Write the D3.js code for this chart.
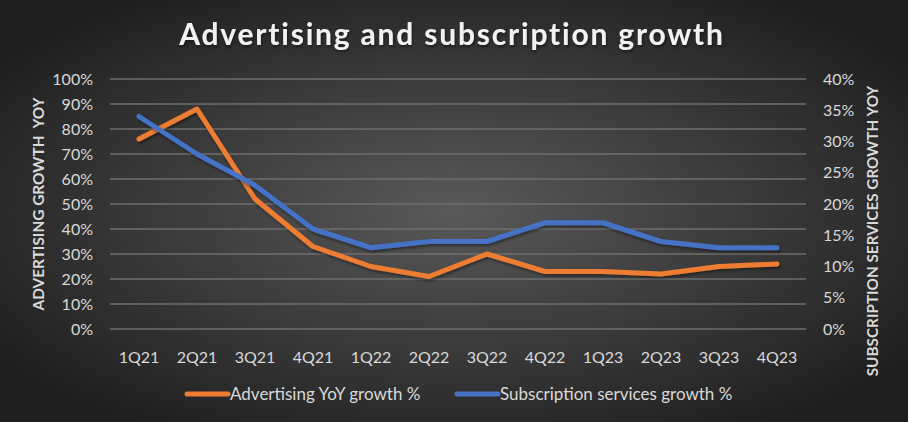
<!DOCTYPE html>
<html>
<head>
<meta charset="utf-8">
<script src="https://cdn.jsdelivr.net/npm/d3@7"></script>
<style>
  html, body { margin: 0; padding: 0; background: #333; }
  #chart { width: 908px; height: 422px; }
  text { font-family: Lato, "Open Sans", sans-serif; }
</style>
</head>
<body>
<div id="chart"></div>
<script>
const quarters = ["1Q21","2Q21","3Q21","4Q21","1Q22","2Q22","3Q22","4Q22","1Q23","2Q23","3Q23","4Q23"];
const advertisingGrowth = [76, 88, 52, 33, 25, 21, 30, 23, 23, 22, 25, 26];
const subscriptionGrowth = [34, 28, 23, 16, 13, 14, 14, 17, 17, 14, 13, 13];
const leftTicks = [0,10,20,30,40,50,60,70,80,90,100];
const rightTicks = [0,5,10,15,20,25,30,35,40];

const W = 908, H = 422;
const margin = { top: 79, right: 102, bottom: 93, left: 110 };

const svg = d3.select("#chart").append("svg")
    .attr("width", W).attr("height", H);

const defs = svg.append("defs");
const bg = defs.append("radialGradient").attr("id","bg")
    .attr("cx","50%").attr("cy","50%").attr("r","62%");
bg.append("stop").attr("offset","0%").attr("stop-color","#595959");
bg.append("stop").attr("offset","100%").attr("stop-color","#1e1e1e");

const shadow = defs.append("filter").attr("id","shadow")
    .attr("x","-10%").attr("y","-20%").attr("width","120%").attr("height","150%");
shadow.append("feDropShadow").attr("dx",1).attr("dy",2).attr("stdDeviation",1.5)
    .attr("flood-color","#000").attr("flood-opacity",0.45);

svg.append("rect").attr("width",W).attr("height",H).attr("fill","url(#bg)");

const x = d3.scaleBand().domain(quarters).range([margin.left, W - margin.right]);
const yL = d3.scaleLinear().domain([0,100]).range([H - margin.bottom, margin.top]);
const yR = d3.scaleLinear().domain([0,40]).range([H - margin.bottom, margin.top]);

// gridlines
svg.append("g").selectAll("line").data(leftTicks).join("line")
    .attr("x1", margin.left).attr("x2", W - margin.right)
    .attr("y1", d => yL(d)).attr("y2", d => yL(d))
    .attr("stroke","#6e6e6e").attr("stroke-width",1.3);

// axes
const leftAxis = svg.append("g").attr("transform",`translate(${margin.left - 17},0)`)
    .call(d3.axisLeft(yL).tickValues(leftTicks).tickFormat(d => d + "%").tickSize(0).tickPadding(0));
const rightAxis = svg.append("g").attr("transform",`translate(${W - margin.right + 17},0)`)
    .call(d3.axisRight(yR).tickValues(rightTicks).tickFormat(d => d + "%").tickSize(0).tickPadding(0));
const bottomAxis = svg.append("g").attr("transform",`translate(0,${H - margin.bottom + 28})`)
    .call(d3.axisBottom(x).tickSize(0).tickPadding(0));

[leftAxis, rightAxis, bottomAxis].forEach(g => {
  g.select(".domain").remove();
  g.selectAll("text").attr("fill","#d9d9d9").style("font-size","16px")
    .style("font-family","Lato, sans-serif");
});
bottomAxis.selectAll("text").attr("dy","0.35em");

// axis titles
svg.append("text")
    .attr("transform",`translate(44,204) rotate(-90)`)
    .attr("text-anchor","middle")
    .attr("fill","#d9d9d9").style("font-size","15.4px").style("font-weight","bold")
    .attr("xml:space","preserve")
    .text("ADVERTISING GROWTH  YOY");
svg.append("text")
    .attr("transform",`translate(878,231) rotate(-90)`)
    .attr("text-anchor","middle")
    .attr("fill","#d9d9d9").style("font-size","15.3px").style("font-weight","bold")
    .text("SUBSCRIPTION SERVICES GROWTH YOY");

// title
svg.append("text")
    .attr("x", 452).attr("y", 45)
    .attr("text-anchor","middle")
    .attr("fill","#f2f2f2").style("font-size","30px").style("font-weight","bold")
    .style("letter-spacing","1.8px")
    .attr("filter","url(#shadow)")
    .text("Advertising and subscription growth");

// lines
const cx = d => x(d) + x.bandwidth()/2;
const advLine = d3.line().x((d,i) => cx(quarters[i])).y(d => yL(d));
const subLine = d3.line().x((d,i) => cx(quarters[i])).y(d => yR(d));

svg.append("path").datum(advertisingGrowth)
    .attr("d", advLine).attr("fill","none")
    .attr("stroke","#ED7D31").attr("stroke-width",5)
    .attr("stroke-linecap","round").attr("stroke-linejoin","round")
    .attr("filter","url(#shadow)");
svg.append("path").datum(subscriptionGrowth)
    .attr("d", subLine).attr("fill","none")
    .attr("stroke","#4472C4").attr("stroke-width",5)
    .attr("stroke-linecap","round").attr("stroke-linejoin","round")
    .attr("filter","url(#shadow)");

// legend
const legend = [
  { name: "Advertising YoY growth %", color: "#ED7D31", x: 187 },
  { name: "Subscription services growth %", color: "#4472C4", x: 457 }
];
const lg = svg.append("g").selectAll("g").data(legend).join("g")
    .attr("transform", d => `translate(${d.x},394)`);
lg.append("line").attr("x1",0).attr("x2",41).attr("y1",0).attr("y2",0)
    .attr("stroke", d => d.color).attr("stroke-width",5).attr("stroke-linecap","round");
lg.append("text").attr("x",43).attr("y",0).attr("dy","0.35em")
    .attr("fill","#d9d9d9").style("font-size","17px")
    .text(d => d.name);
</script>
</body>
</html>
